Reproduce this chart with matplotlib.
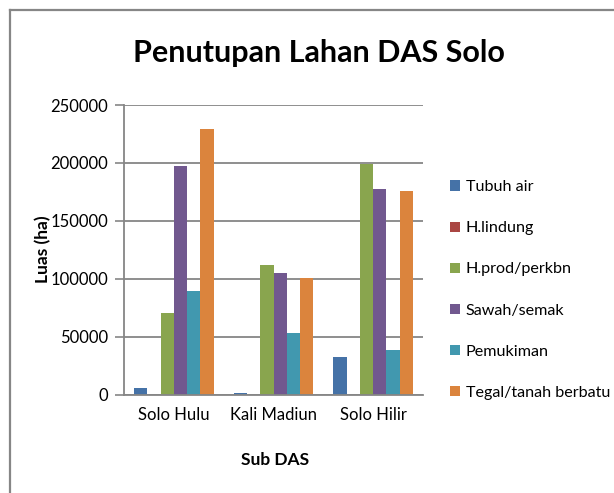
import matplotlib
matplotlib.use('Agg')
import matplotlib.pyplot as plt
import numpy as np

plt.rcParams['font.family'] = ['Lato', 'DejaVu Sans']

categories = ['Solo Hulu', 'Kali Madiun', 'Solo Hilir']
series = ['Tubuh air', 'H.lindung', 'H.prod/perkbn', 'Sawah/semak', 'Pemukiman', 'Tegal/tanah berbatu']
tubuh_air = [5800, 1200, 32800]
h_lindung = [0, 0, 0]
h_prod = [70600, 112000, 199300]
sawah = [197300, 104600, 177700]
pemukiman = [89300, 52700, 38600]
tegal = [229500, 100500, 176000]
values = [tubuh_air, h_lindung, h_prod, sawah, pemukiman, tegal]
colors = ['#4572A7', '#AA4643', '#89A54E', '#71588F', '#4198AF', '#DB843D']
yticks = [0, 50000, 100000, 150000, 200000, 250000]

W, H = 614, 493
fig = plt.figure(figsize=(W / 100, H / 100), dpi=100)
ax = fig.add_axes([124/W, 1 - 394.5/H, 299/W, 289.5/H])

x = np.arange(len(categories))
w = 1 / 7.5
for i, (name, vals) in enumerate(zip(series, values)):
    ax.bar(x + (i - 2.5) * w, vals, width=w, color=colors[i], label=name)

ax.set_xlim(-0.5, 2.5)
ax.set_ylim(0, 250000)
ax.set_yticks(yticks)
ax.set_yticklabels([str(v) for v in yticks], fontsize=12)
ax.set_xticks(x)
ax.set_xticklabels(categories, fontsize=12)
ax.tick_params(axis='x', length=0, pad=9)
ax.tick_params(axis='y', length=6.5, width=1.2, color='#868686', pad=5)
ax.grid(axis='y', color='#868686', lw=1.3)
ax.set_axisbelow(True)
for s in ['top', 'right']:
    ax.spines[s].set_visible(False)
for s in ['left', 'bottom']:
    ax.spines[s].set_color('#868686')
    ax.spines[s].set_linewidth(1.3)

fig.text(43/W, 1 - 249/H, 'Luas (ha)', fontsize=12.5, fontweight='bold',
         rotation=90, ha='center', va='center')
fig.text(275/W, 1 - 460/H, 'Sub DAS', fontsize=12.5, fontweight='bold',
         ha='center', va='center')
fig.text(319/W, 1 - 62/H, 'Penutupan Lahan DAS Solo', fontsize=22, fontweight='bold',
         ha='center', va='baseline')

leg = ax.legend(loc='center left', bbox_to_anchor=(450/W, 1 - 290/H),
                bbox_transform=fig.transFigure,
                frameon=False, fontsize=11.6, handlelength=0.62, handleheight=0.62,
                handletextpad=0.35, labelspacing=1.68, borderaxespad=0, borderpad=0)

# chart frame (left and top edges visible)
fig.add_artist(plt.Line2D([9.5/W, 9.5/W], [0, 1 - 10/H], color='#868686', lw=1.6,
                          transform=fig.transFigure))
fig.add_artist(plt.Line2D([9.5/W, 1], [1 - 10/H, 1 - 10/H], color='#868686', lw=1.6,
                          transform=fig.transFigure))

fig.savefig('out.png', dpi=100)
